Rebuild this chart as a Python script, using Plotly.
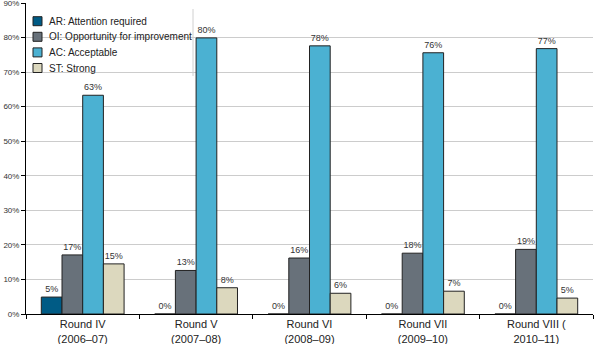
import plotly.graph_objects as go

categories = ["Round IV<br>(2006\u201307)", "Round V<br>(2007\u201308)", "Round VI<br>(2008\u201309)",
              "Round VII<br>(2009\u201310)", "Round VIII (<br>2010\u201311)"]
series_names = ["AR: Attention required", "OI: Opportunity for improvement", "AC: Acceptable", "ST: Strong"]
ar = [4.9, 0, 0, 0, 0]
oi = [17.1, 12.6, 16.2, 17.6, 18.7]
ac = [63.3, 79.9, 77.6, 75.6, 76.8]
st = [14.5, 7.6, 6.0, 6.6, 4.6]
colors = ["#005b85", "#68717a", "#4bb1d2", "#dcd8be"]
y_ticks = [0, 10, 20, 30, 40, 50, 60, 70, 80, 90]

font_family = "Liberation Sans, Arial, Helvetica, sans-serif"

W, H = 595, 344
ML, MR, MT, MB = 26, 2, 3, 30
PW, PH = W - ML - MR, H - MT - MB


def px_x(x):
    return (x - ML) / PW


def px_y(y):
    return (H - MB - y) / PH


fig = go.Figure()
for name, vals, col in zip(series_names, [ar, oi, ac, st], colors):
    fig.add_trace(go.Bar(
        name=name, x=categories, y=vals,
        marker=dict(color=col, line=dict(color="#222222", width=1)),
        text=[f"{round(v + 1e-9):.0f}%" for v in vals],
        textposition="outside",
        textfont=dict(size=9, color="#333333", family=font_family),
        cliponaxis=False,
        showlegend=False,
    ))

shapes = []
annotations = []
# legend background box (between gridlines and bars)
shapes.append(dict(type="rect", xref="paper", yref="paper", layer="between",
                   x0=px_x(27), x1=px_x(193), y0=px_y(76), y1=px_y(9),
                   fillcolor="white", line=dict(width=0)))
shapes.append(dict(type="line", xref="paper", yref="paper", layer="between",
                   x0=px_x(193), x1=px_x(193), y0=px_y(76), y1=px_y(9),
                   line=dict(color="#d0d0d0", width=1)))
row0, step = 21.2, 15.6
for i, (name, col) in enumerate(zip(series_names, colors)):
    cy = row0 + i * step
    shapes.append(dict(type="rect", xref="paper", yref="paper", layer="above",
                       x0=px_x(33), x1=px_x(42), y0=px_y(cy + 4.5), y1=px_y(cy - 4.5),
                       fillcolor=col, line=dict(color="#222222", width=1)))
    annotations.append(dict(text=name, xref="paper", yref="paper", x=px_x(47), y=px_y(cy),
                            xanchor="left", yanchor="middle", showarrow=False,
                            font=dict(size=10, color="#222222", family=font_family)))

fig.update_layout(
    barmode="group",
    bargap=0.27,
    bargroupgap=0,
    width=W, height=H,
    margin=dict(l=ML, r=MR, t=MT, b=MB, autoexpand=False),
    paper_bgcolor="white", plot_bgcolor="white",
    font=dict(family=font_family, color="#222222"),
    showlegend=False,
    shapes=shapes,
    annotations=annotations,
)
fig.update_yaxes(range=[0, 90], tickvals=y_ticks, ticktext=[f"{v}%" for v in y_ticks],
                 showgrid=True, gridcolor="#cccccc", gridwidth=1,
                 showline=True, linecolor="#000000", linewidth=1,
                 ticks="outside", ticklen=4, tickcolor="#000000",
                 ticklabeloverflow="allow", automargin=False,
                 tickfont=dict(size=8, color="#333333"), zeroline=False)
fig.update_xaxes(showline=True, linecolor="#000000", linewidth=1,
                 ticks="outside", tickson="boundaries", ticklen=4, tickcolor="#000000",
                 automargin=False,
                 tickfont=dict(size=11, color="#222222"))

fig.write_html("out.html")
